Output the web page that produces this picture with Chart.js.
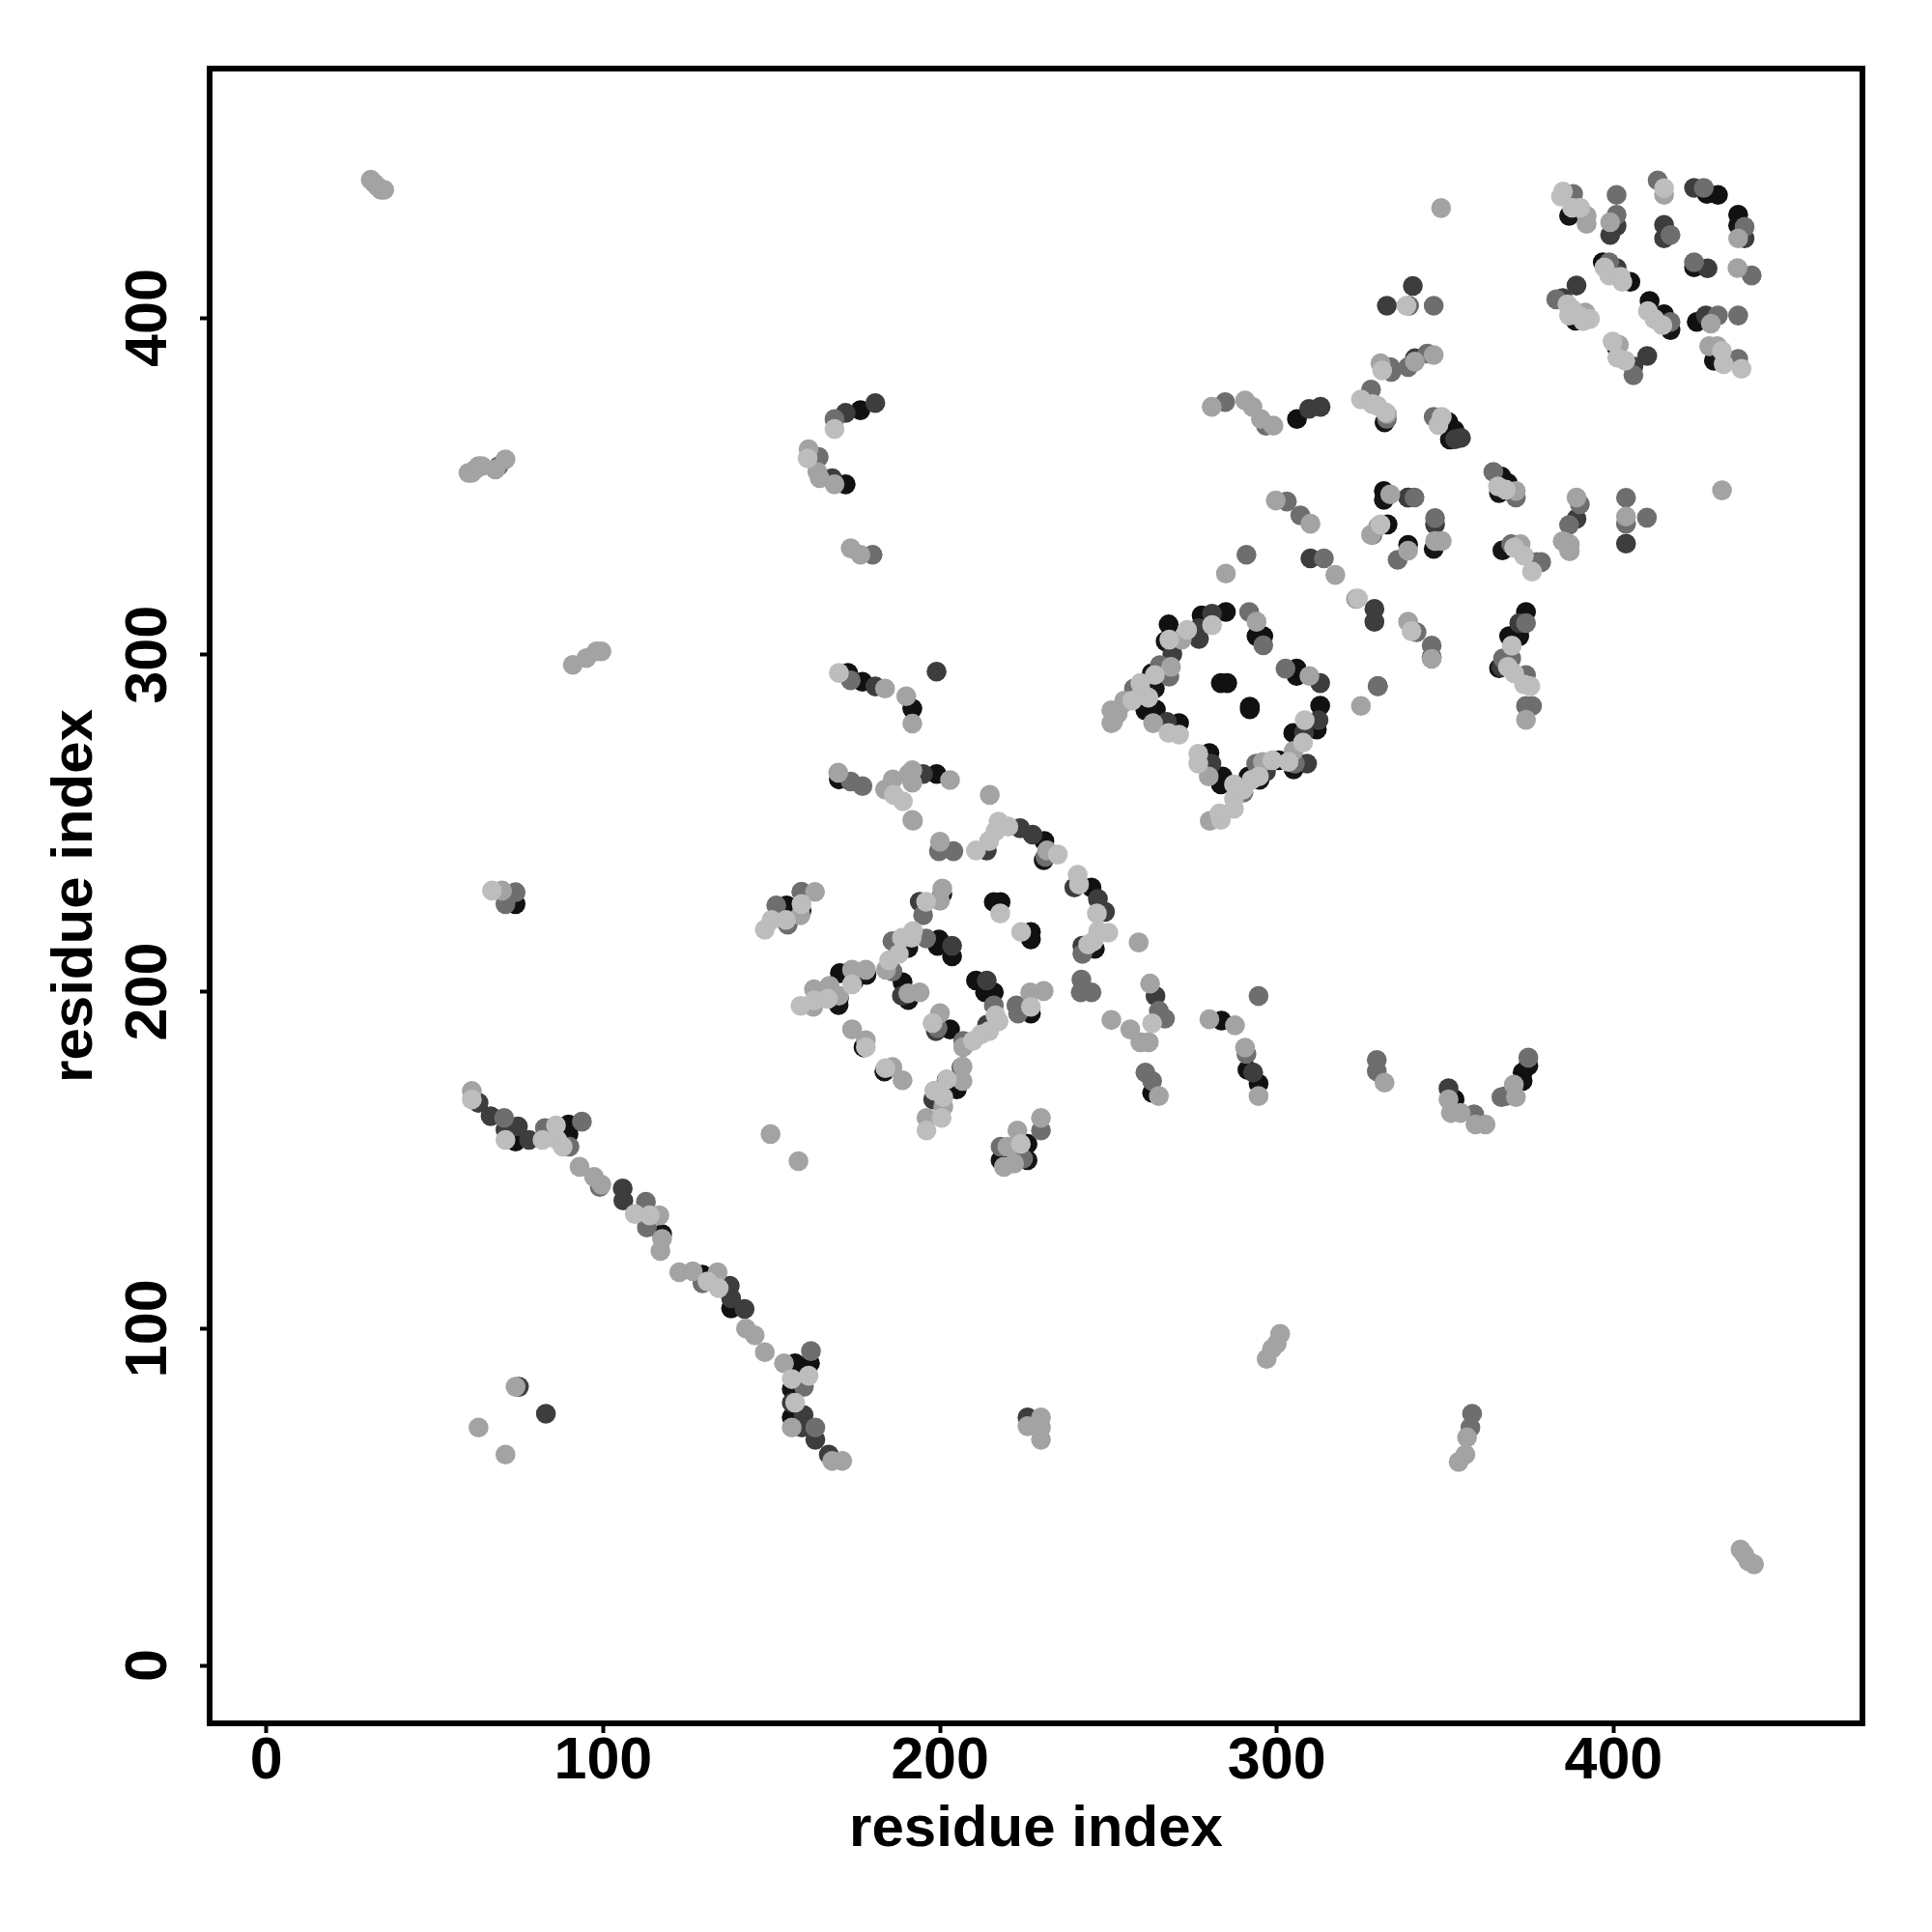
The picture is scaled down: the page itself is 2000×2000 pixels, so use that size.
<!DOCTYPE html>
<html><head><meta charset="utf-8">
<style>html,body{margin:0;padding:0;background:#fff}canvas{display:block}</style>
<script src="https://cdn.jsdelivr.net/npm/chart.js@4/dist/chart.umd.js"></script>
</head><body><canvas id="c" width="2000" height="2000"></canvas>
<script>
const tickValues=[0,100,200,300,400];
const axisLabel="residue index";
const under=[[177.3,183.5],[183.5,176.3],[169.9,196],[174.4,203],[178.2,205],[158.9,224],[190.6,197.5],[190.6,213],[230.8,239],[246,212.7],[200.7,229],[170,198],[86,158],[267,304],[262.9,294.5],[263.8,290],[294.9,262.9],[305,266],[332,369],[351.4,363.9],[331.8,346],[346.6,331.4],[386.8,430.3],[388.7,399.2],[416.9,396.4],[429.8,387.3],[401,391],[423.9,415],[437,427.5],[156,82],[157,87],[117.5,128],[366,348],[367,331],[218,150],[226,150],[366,296]];
const pale=[[61,168],[71,156],[82,156],[86,160.3],[86.4,156],[88,154],[109.4,134],[113.8,133.6],[134.3,112],[131,114],[156,85],[161,86],[157,78],[224,154.8],[196,158.8],[200.5,162.5],[201,168.7],[202.1,174],[198.3,170.6],[183.8,177.3],[178,183.5],[158.6,195.8],[162.7,197.4],[166.7,197.9],[173.9,202.2],[150,221.3],[148,218.4],[154.3,221.3],[158.9,226],[184.9,209.3],[187.8,211.2],[188.7,216],[191.6,216],[192,218],[186.3,258.4],[189,256.5],[195.9,226.7],[197.8,190.7],[209.8,185.4],[212.2,187.3],[214.6,188.3],[217.4,191.2],[216.5,193],[227,195.5],[217.9,223.2],[224.1,217.7],[210.7,241.9],[214.6,244.7],[216.5,247.6],[217.4,250.5],[220.3,249],[235,240.7],[240.9,234.7],[241.3,231.8],[246.6,223.2],[250,217.5],[247,218],[245.6,215],[244,214],[263,190.6],[268.1,304.5],[273.4,307.4],[280.8,308.8],[263.8,294],[259.5,291.6],[260,288.8],[261.9,287.3],[257.1,286.4],[267.9,276.8],[271,276.3],[276.7,270.6],[276.7,267.7],[287.3,261.5],[287.3,257.2],[287.3,254.3],[290.1,260],[298.7,268.7],[294.7,263.9],[292.5,262.9],[283.4,251],[283,252.9],[308.3,280.6],[307.8,273.9],[303.5,268.2],[331.3,384.4],[325,375.8],[328.4,374.4],[329.9,373.9],[332.3,372],[349,370.6],[348,368.2],[365.7,350],[368,349],[370.5,331.8],[373.4,329.4],[375.8,324.7],[324.1,316.7],[340,307],[369.8,302.7],[368.6,296.4],[370.5,294.5],[375.3,290.7],[373.4,291.2],[385,437.5],[384.4,436],[390.1,432.7],[387.7,432.7],[415,438.5],[397.3,415],[398.7,412.6],[402.1,412.2],[402.6,410.7],[386.3,404],[387.7,402.6],[386.8,400.7],[393,399.7],[391,399],[390,400.5],[410.2,402],[412.1,399.7],[414.5,397.8],[399.7,393],[403.5,387.3],[401.1,388.2],[432.2,390.2],[432.7,386.3],[438,384.9],[338.5,403.6],[67,230],[168.7,367],[160.7,358.3],[170,294.6],[330.8,338.7]];
const gray=[[31,441],[32,440],[33,439],[34,438],[35,438],[60,354],[61,354],[62,355],[63,356],[64,356],[68,355],[71,358],[91,297],[95,299],[98,301],[99.5,301],[70,230],[61,170.5],[93,148],[97.3,145],[99.5,142.7],[116.7,133.6],[117.5,126.6],[117,123],[122.6,116.7],[126.6,117],[134,116.7],[142.4,100],[145,98],[148,93],[153.7,89.7],[156,70.6],[168,60.7],[171,60.7],[74,82.7],[63,70.6],[71,62.6],[230,73.6],[226,71],[230,70.6],[230,67],[297,91],[298.6,94],[300,95.5],[301,98.4],[354,60.4],[356,62.6],[356.5,67.7],[437.7,34.4],[438.8,33],[440,31],[441.7,30],[149.7,157.7],[158,149.7],[219,148],[222,149],[220,154],[223,158.8],[230,162.5],[196,162.5],[201,165.8],[173.9,188.8],[178,185.6],[185.9,177.6],[188.9,173.7],[206.7,177.8],[206.7,173.5],[162.4,195.5],[162.6,200.7],[167.2,201.7],[170,198.8],[173.9,206.5],[178,206.5],[184,206.5],[162.9,229.6],[158.6,222.7],[190.6,199.5],[194,199.8],[200,193.6],[206.9,183.5],[226.8,199.8],[230.8,200.2],[200,227],[200.7,230.6],[192,250.7],[200,244.5],[231.8,241.9],[259,214.6],[250.9,191.6],[262.4,202.4],[256.5,188.8],[259.5,185],[262,185],[265,169],[280,191.8],[287.6,190],[290.6,183.4],[294.6,169],[332,173],[351,168],[351.7,164],[354.6,164],[359,160.6],[362,160.6],[370.4,172.4],[371,168.7],[271.8,304.5],[294,309.8],[268.6,296.4],[254.7,286.4],[263.3,279.7],[250.9,283.5],[252.8,282.5],[250.9,279.7],[251.4,280],[254.7,285.8],[279.8,263.9],[280.1,250.7],[295.9,268.2],[305,271.5],[309.7,293.7],[284.9,324.1],[317.4,323.7],[323.5,316.6],[299.7,345.8],[310,338.9],[280.7,373.6],[290.6,375.5],[292.8,373.6],[295.3,370],[299,368],[332.7,371.5],[333.7,347.6],[349,333.8],[347,333.8],[339,330.9],[330,338],[328,335.6],[372.4,332.8],[371,348.6],[389,346.7],[384.9,333.7],[387,332.8],[387,330.7],[339,309.8],[346,298.8],[374,280.7],[325,284.8],[348.8,432.6],[330.8,386.5],[341,387],[346.6,389],[432.2,348.8],[385.7,333.4],[386.8,331],[403.7,341],[392,430.3],[392,427.9],[399,428.4],[415,436.5],[437,423.6],[436.8,414.8],[391.6,401.6],[428.9,398.3],[401.6,392],[428.4,391.6],[430.8,391.6],[173.5,331.6],[176.4,329.7],[161,361],[163.6,354.3],[164.3,352.4],[168.7,350.6],[183.7,290],[190,287.7],[191.8,279.6],[169.8,265],[183.7,260],[191.8,262],[191.8,265.7],[190.7,264.6],[203,262.8],[186,263],[191.8,251],[214.8,258.4]];
const mid=[[69,356],[74,229.5],[71,226],[70.6,162.5],[82.7,159.5],[90,154],[93.7,161.4],[99,142],[112.7,137.6],[113,130],[129.5,113.4],[161.7,93.3],[159.6,82.7],[163,70.6],[357.5,70.6],[358,74.7],[224.7,150.4],[230,158.8],[218,154],[185.9,215],[195,222.7],[199.7,241.7],[204,241.7],[231.3,240],[242.3,211.2],[242,203.6],[241.8,199.8],[245,199.8],[158.9,229.6],[151.4,225.6],[154.8,219.9],[185.9,206],[195.9,215.8],[199.3,189.2],[206.9,185.4],[216,195.9],[222.7,195.9],[223.2,193.5],[265,194.3],[266.8,192],[261,176],[263,173.5],[291,181.5],[294.6,198.7],[329.7,179.7],[329.7,176.4],[358.6,163.6],[366.7,168.7],[368,169],[374.7,180.4],[291,329.7],[291.8,312.7],[296,302.8],[268.1,293.5],[265.3,296.9],[257.6,290],[290.1,259.1],[293.9,267.7],[302.6,295.9],[305.4,267.7],[334,384],[339,385.4],[328,378.7],[332.7,370],[346.6,370.6],[364.3,354.3],[371,346.7],[390,344.7],[386.8,338.5],[369.6,332.8],[378.5,327.5],[377.2,327.5],[340.9,346.7],[328.4,335.6],[335.9,328.2],[347,340.6],[341.5,306.7],[346,302.7],[374,309.4],[367.2,298.9],[369.6,298.9],[374,294],[374,284.8],[375.8,284.8],[330,290.7],[314,328.6],[303,345.5],[307,341.4],[284.7,375],[296.8,368],[333.7,385.4],[339.3,403.6],[346.6,403.6],[344.7,389.4],[403.7,346.6],[403.7,338.9],[409.9,340.7],[388,436.8],[400.9,436.5],[400.9,430.6],[413.1,440.8],[426.8,438.6],[438.9,427],[416.9,424.6],[423.9,416.5],[441,412.6],[398.7,416.5],[383,405.5],[416.9,398.8],[431,400.7],[437,400.7],[405.9,383],[437,387.8],[180,329.7],[164,358.7],[168.7,370],[173.5,292.4],[173.5,262.4],[177,261],[158.9,229.6]];
const dark=[[63,167],[66.6,163],[71,159],[74.7,160],[78,156],[105.8,141.6],[106,138],[137.6,112.7],[138,109],[142,105.8],[156,78],[159.5,74.3],[159,70.6],[163,67],[167,62.6],[75,82.7],[83,74.7],[226,73.6],[351,171.3],[198,168],[206.4,177.5],[188.7,198.8],[198.8,188.3],[194,226.7],[203.6,213.6],[213.9,203.3],[214,190.2],[213.9,241.9],[223.8,248.5],[227.5,246.6],[242.3,213.6],[239.9,230.9],[246.9,227.5],[249,223.7],[264,198.7],[293,176],[276.9,304.7],[276.9,307.9],[280.8,312.2],[269,300.2],[267.4,280.1],[280.6,267.7],[296.8,265.3],[308.1,276.8],[309,267.7],[312.4,280.6],[312.9,291.6],[310,328.6],[354.7,364.4],[353,364],[339,346.7],[347,338.7],[329,313.6],[329,309.8],[346,299.3],[372,309.4],[366.7,296.4],[389,340.4],[309.6,373],[313,373.6],[332.7,403.6],[340.4,409.5],[341,388],[423.9,438.6],[438.9,423.6],[400.9,427.3],[399,424.6],[415,427.6],[415,423.6],[427.9,414.7],[400.9,414.8],[389,409.6],[384.9,405.9],[427.4,400.7],[410,388.7],[405.9,385.6],[403.7,333],[172,371.8],[180.8,374.7],[168,352.4],[180.8,290.6],[199,295],[195,264.6],[330,290.7],[339,346.7]];
const black=[[74,226],[74,155.5],[89.7,160.6],[89.7,157.7],[129.5,116],[138,106],[157,89.7],[161.4,89.7],[156,73.6],[226,154.8],[202,173.8],[205,171],[154.5,225.6],[170.3,205.5],[174.4,205.5],[199.7,215.5],[199.3,213.6],[203.6,210.5],[188.9,202.8],[210.7,203.3],[213.4,199.8],[216,199.8],[203,188.8],[227,193.5],[216,226.6],[218,226.6],[227,217.7],[227,215.5],[231,244.7],[245,230.9],[263,170],[283.6,191.4],[291.3,176.8],[294.6,172.7],[352.8,168],[373,176],[373,173.5],[374.7,178],[267.9,309],[277.7,311.7],[284.9,312.7],[294,305.5],[296,305.5],[261,283.5],[264.1,283.7],[271,279.7],[283.4,291.6],[285.3,291.6],[292,284.6],[292,283.8],[305.9,295.9],[305.9,293.7],[312.9,284.9],[311.9,277.8],[304.9,276.8],[300.6,268.7],[280,270.8],[283.9,263.9],[283.4,261.5],[291.6,263.9],[350.9,369.1],[352.8,366.7],[366.7,352.9],[368.6,351],[331.8,348.6],[332.9,338.7],[339,332.6],[374,312.7],[369,305.5],[372,305.5],[306,370],[427.7,436.8],[431,436.5],[437,430.6],[396.8,416.5],[405,410.7],[410.7,405],[415,401.1],[424.7,398.8],[172,350.6],[176.4,372.6],[172.7,294.6],[177,292],[191.8,284],[170,263],[199,264.6]];
const shades=[["under",under,"#151515"],["black",black,"#111111"],["dark",dark,"#3d3d3d"],["mid",mid,"#6e6e6e"],["gray",gray,"#a3a3a3"],["pale",pale,"#bdbdbd"]];
const fontFamily='"Liberation Sans",Arial,sans-serif';
const framePlugin={id:"frame",afterDraw(chart){
  const {ctx,chartArea:a,scales}=chart;
  ctx.save();ctx.strokeStyle="#000";ctx.lineWidth=6;ctx.lineJoin="miter";
  ctx.strokeRect(a.left,a.top,a.right-a.left,a.bottom-a.top);
  ctx.fillStyle="#000";ctx.font="bold 61px "+fontFamily;ctx.textAlign="center";ctx.textBaseline="alphabetic";
  tickValues.forEach(v=>{const y=scales.y.getPixelForValue(v);ctx.save();ctx.translate(172,y);ctx.rotate(-Math.PI/2);ctx.fillText(String(v),0,0);ctx.restore();});
  ctx.restore();
}};
function setTicks(s){s.ticks=tickValues.map(v=>({value:v}));}
new Chart(document.getElementById("c"),{
  type:"scatter",
  data:{datasets:shades.map(([label,pts,color],i)=>({label,order:shades.length-i,data:pts.map(([x,y])=>({x,y})),backgroundColor:color,borderWidth:0,pointRadius:10.3,pointHoverRadius:10.3,clip:false}))},
  options:{responsive:false,animation:false,devicePixelRatio:1,
    layout:{padding:{top:71,right:72,left:0,bottom:0}},
    plugins:{legend:{display:false},tooltip:{enabled:false}},
    scales:{
      x:{type:"linear",min:-16.84,max:473.9,afterBuildTicks:setTicks,afterFit(s){s.height=216;},
        border:{display:false},
        grid:{drawOnChartArea:false,drawTicks:true,tickLength:10,tickWidth:4,tickColor:"#000"},
        ticks:{color:"#000",padding:-6,maxRotation:0,minRotation:0,font:{family:fontFamily,weight:"bold",size:61},callback:v=>String(v)},
        title:{display:true,text:axisLabel,color:"#000",font:{family:fontFamily,weight:"bold",size:60},padding:{top:0,bottom:70}}},
      y:{type:"linear",min:-17.2,max:474,afterBuildTicks:setTicks,afterFit(s){s.width=217;},
        border:{display:false},
        grid:{drawOnChartArea:false,drawTicks:true,tickLength:10,tickWidth:4,tickColor:"#000"},
        ticks:{display:false},
        title:{display:true,text:axisLabel,color:"#000",font:{family:fontFamily,weight:"bold",size:60},padding:{top:42,bottom:0}}}
    }},
  plugins:[framePlugin]
});
</script></body></html>
